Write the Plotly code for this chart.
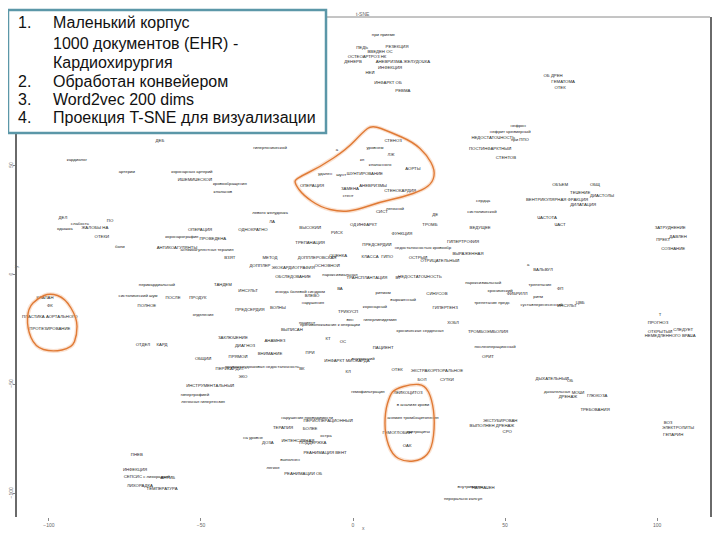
import plotly.graph_objects as go

# ---- data: t-SNE projection of word2vec terms ----
WORDS = [
    "при приеме", "РЕЗЕКЦИЯ", "ПЕДЬ", "ВВЕДЕН ОС", "ОСТЕОАРТРОЗ НК", "АНЕВРИЗМА ЖЕЛУДОЧКА",
    "ДЕНЕРВ", "ИНФЕКЦИЯ", "НЕЙ", "ИНФАРКТ ОБ", "РЕВМА",
    "ОБ ДРЕН", "ГЕМАТОМА", "ОТЕК",
    "нефрон", "нефрит чрезмерный", "НЕДОСТАТОЧНОСТЬ", "при ППО", "ПОСТИНФАРКТНЫЙ", "СТЕНТОВ",
    "ДЕБ", "кардиолог", "артерии", "коронарных артерий", "ИШЕМИЧЕСКОЙ", "кровообращения",
    "клапанов", "гипертонической", "а",
    "уровнем", "СТЕНОЗ", "ЛЖ", "кл", "клапанного", "АОРТЫ", "удален", "шунт", "ШУНТИРОВАНИЕ",
    "ОПЕРАЦИЯ", "ЗАМЕНА", "АНЕВРИЗМЫ", "СТЕНОКАРДИЯ", "стент", "легочной", "СИСТ", "ДЕ",
    "ОБЪЕМ", "ОБЩ", "ТЕЧЕНИЕ", "ДИАСТОЛЫ", "ВЕНТРИКУЛЯРНАЯ ФРАКЦИЯ", "ДИЛАТАЦИЯ", "сердца",
    "систолической", "ТРОМБ", "ВЕДУЩЕЕ", "ЧАСТОТА", "ЧАСТ", "ИНФАРКТ", "ФУНКЦИЯ", "ПРЕДСЕРДИЙ",
    "недостаточностью кровообр", "ГИПЕРТРОФИЯ", "ВЫРАЖЕННАЯ", "ОСТРЫЙ", "ОТРИЦАТЕЛЬНЫЙ",
    "КЛАССА", "ГИПО", "ЗАТРУДНЕНИЕ", "ПРЕКТ", "ДАВЛЕН", "СОЗНАНИЕ", "а",
    "ДЕЛ", "слабость", "ПО", "одышка", "ЖАЛОБЫ НА", "ОТЕКИ", "боли", "ОПЕРАЦИЯ",
    "коронарография", "ПРОВЕДЕНА", "ОДНОКРАТНО", "левого желудочка", "ЛА", "ВЫСОКИЙ", "РИСК",
    "ОД", "ТРЕПАНАЦИЯ", "АНТИКОАГУЛЯНТЫ", "антикоагулянтная терапия", "ВЗЯТ", "МЕТОД",
    "ДОППЛЕР", "ДОППЛЕРОВСКАЯ", "ОЦЕНКА", "ЭХОКАРДИОГРАФИЯ", "ОСНОВНОЙ",
    "пароксизмальная", "ОБСЛЕДОВАНИЕ", "перикардиальный", "ТАНДЕМ", "систолический шум",
    "ПОСЛЕ", "ПРОДУК", "ИНСУЛЬТ", "иногда болевой синдром", "ВЛЕВО", "ВА", "ПОЛНОЕ",
    "ПРЕДСЕРДИЯ", "ВОЛНЫ", "нарушения", "ТРИКУСП", "отделение", "вен", "пациент",
    "противопоказания к операции", "ВЫПИСАН", "ОТДЕЛ", "КАРД", "ЗАКЛЮЧЕНИЕ", "ДИАГНОЗ",
    "АНАМНЕЗ", "КТ", "ОС", "ОБЩИЙ", "ПРЯМОЙ", "ВНИМАНИЕ", "ПРИ", "ПЕРИКАРДИТ",
    "правожелудочковая недостаточность", "ВК", "ИНФАРКТ МИОКАРДА", "КЛ", "ЭХО",
    "ИНСТРУМЕНТАЛЬНЫЙ", "гипертрофией",
    "КЛАПАН", "ФК", "ПЛАСТИКА АОРТАЛЬНОГО", "ПРОТЕЗИРОВАНИЕ",
    "легочная гипертензия", "нарушение проводимости", "ПЕРИОПЕРАЦИОННЫЙ", "ТЕРАПИЯ", "БОЛЕЕ",
    "остра", "на уровне", "ДОЗА", "ИНТЕНСИВНАЯ", "ПОДДЕРЖКА", "РЕАНИМАЦИЯ ВЕНТ", "выполнен",
    "легкое", "РЕАНИМАЦИИ ОБ", "ПНЕВ", "ИНФЕКЦИЯ", "СЕПСИС с лихорадкой", "АНТИБ",
    "ЛИХОРАДКА", "ТЕМПЕРАТУРА",
    "ТРАНСПЛАНТАЦИЯ", "ВТ", "НЕДОСТАТОЧНОСТЬ", "ВАЛЬВУЛ", "пароксизмальный", "трепетание",
    "ФП", "хронический", "ФИБРИЛЛ", "ритм", "СИНУСОВ", "ритмом", "выраженный", "коронарный",
    "ГИПЕРТЕНЗ", "трепетание предс", "сустав", "перенесенный", "ИНСУЛЬТ", "ЦВБ",
    "гиперлипидемия", "хроническая сердечная", "ХОБЛ", "ТРОМБОЭМБОЛИЯ", "послеоперационный",
    "ОРИТ", "ПАЦИЕНТ", "внутренний", "ОТЕК", "ЭКСТРАКОРПОРАЛЬНОЕ", "БОЛ", "СУТКИ",
    "Т", "ПРОГНОЗ", "ОТКРЫТЫЙ", "СЛЕДУЕТ", "НЕМЕДЛЕННОГО ВРАЧА",
    "ДЫХАТЕЛЬНЫЙ", "ОБ", "дыхательная", "МОЧИ", "ДРЕНАЖ", "ГЛЮКОЗА", "гемофильтрация",
    "ЛЕЙКОЦИТОЗ", "в анализе крови", "анемия тромбоцитопения", "ГЕМОГЛОБИН", "эритроциты",
    "ОАК", "ЭКСТУБИРОВАН", "ВЫПОЛНЕН ДРЕНАЖ", "СРО", "ТРЕБОВАНИЯ", "ВОЗ", "ЭЛЕКТРОЛИТЫ",
    "ГЕПАРИН", "внутривенно", "НАЗНАЧЕН", "перорально капсул",
]

TSNE_X = [
    10, 14.5, 3, 8.9, 4.6, 16.4, 0, 12.2, 5.6, 11.5, 16.4,
    65.8, 69.1, 68.1,
    54.3, 51.7, 46.1, 54.9, 45.1, 50.3,
    -63.5, -90.8, -74.4, -53, -52, -40.5, -42.8, -27.3, -5.3,
    7.2, 13.2, 12.5, 3, 8.9, 19.7, -9.2, -3.9, 3.9,
    -13.5, -1, 6.6, 15.5, -1.6, 13.8, 9.5, 27,
    68.1, 79.6, 74.7, 81.9, 67.1, 75.7, 42.8,
    42.4, 25.3, 41.8, 63.8, 68.1, 4.6, 16.1, 7.9,
    23, 36.2, 37.8, 21.4, 28.6,
    5.6, 11.2, 104.3, 102, 106.9, 105.3, 57.6,
    -95.4, -89.8, -79.9, -94.8, -84.9, -82.6, -76.7, -50.3,
    -56.3, -46.1, -32.9, -27.3, -26.6, -14.1, -5.3,
    0, -14.1, -57.9, -48, -40.5, -27.3,
    -30.6, -11.8, -4.9, -19.7, -8.5,
    -4.3, -19.7, -64.5, -42.8, -70.7,
    -59.2, -51, -34.5, -17.4, -13.5, -4.3, -67.8,
    -33.9, -24.7, -13.2, -1.6, -49.3, -1, -15.1,
    -7.6, -20.1, -69.1, -62.8, -39.5, -35.5,
    -25.7, -8.2, -3.3, -49.3, -37.8, -27.3, -14.1, -40.5,
    -29.9, -16.8, -2, -1.6, -36.2,
    -47, -52,
    -101.3, -99.7, -99.7, -99.7,
    -49.3, -15.1, -8.2, -23, -14.1,
    -8.9, -32.9, -28, -18.1, -13.2, -9.2, -20.7,
    -26.3, -16.4, -71.1, -71.7, -67.8, -60.9,
    -70.1, -62.8,
    4.6, 14.8, 22, 62.5, 42.8, 61.5,
    68.1, 48.4, 54, 60.9, 27.6, 9.9, 16.5, 7.2,
    30.3, 45.7, 57.2, 64.2, 70.4, 74.7,
    8.9, 22, 32.9, 44.4, 46.7,
    44.4, 9.9, 3.3, 14.5, 27.6, 22.7, 30.9,
    101, 100.3, 101, 108.6, 104.3,
    65.5, 71.4, 67.1, 74, 70.7, 80.3, 4.9,
    18.1, 19.7, 19.7, 14.5, 21.4,
    17.8, 48.4, 45.7, 50.7, 79.6, 103.6, 106.9,
    105.3, 38.5, 42.8, 36.2,
]

TSNE_Y = [
    110, 104.2, 104, 101.9, 99.6, 97.3, 97.3, 94.6, 92.3, 87.7, 84.1,
    90.9, 88.2, 85.5,
    68.1, 65.4, 62.6, 61.7, 57.6, 53.5,
    61.2, 52.6, 47.1, 47.1, 43.4, 41.6, 37.9, 58, 57.1,
    58, 61.2, 54.8, 52.6, 50.3, 48.4, 46.2, 45.7, 46.2,
    40.7, 39.3, 40.7, 38.4, 36.1, 30.2, 28.8, 27.4,
    41.1, 41.1, 37.5, 36.1, 34.3, 32, 33.8,
    28.8, 22.9, 21.5, 26, 22.9, 22.9, 18.7, 13.7,
    12.3, 15.1, 9.6, 7.8, 6.4,
    8.2, 8.2, 21.5, 16, 17.4, 11.9, 4.6,
    26, 23.3, 24.7, 21, 21.5, 17.4, 12.8, 20.6,
    17.4, 16.5, 20.6, 28.3, 24.2, 21.5, 19.2,
    22.9, 14.6, 12.3, 11.4, 7.8, 7.8,
    4.1, 7.8, 8.7, 3.2, 4.1,
    0, -0.9, -4.6, -4.6, -9.6,
    -10.5, -10.5, -7.3, -7.8, -9.6, -6.4, -14.2,
    -16, -15.1, -12.8, -16.9, -18.3, -20.6, -21.9,
    -22.9, -25.1, -32, -32, -28.8, -32.4,
    -30.2, -29.2, -30.6, -38.4, -37.5, -36.1, -35.6, -43,
    -42, -43, -39.3, -44.3, -46.6,
    -50.7, -54.8,
    -10.5, -14.2, -19.2, -24.7,
    -58, -65.4, -66.7, -69.9, -70.4,
    -73.6, -74.5, -76.8, -75.9, -76.8, -81.3, -84.5,
    -88.2, -90.9, -82.3, -89.1, -92.3, -92.8,
    -96.4, -97.8,
    -1.4, -1.4, -0.9, 2.3, -3.7, -4.6,
    -6.4, -7.3, -8.7, -10.1, -8.7, -8.2, -11.4, -14.6,
    -15.1, -12.8, -13.7, -13.7, -14.2, -12.8,
    -20.6, -25.6, -21.9, -26, -32.9,
    -37.5, -33.4, -38.4, -43.4, -43.9, -48, -48,
    -18.3, -21.9, -26, -25.1, -27.9,
    -47.5, -48.4, -53.5, -53.9, -55.8, -55.3, -53.5,
    -53.9, -59.4, -65.4, -72.2, -71.7,
    -78.1, -66.7, -69, -71.7, -61.7, -67.6, -69.9,
    -73.1, -96.9, -97.3, -102.4,
]

X_TICKS = [-100, -50, 0, 50, 100]
Y_TICKS = [-100, -50, 0, 50]

NOTES_NUM = ["1.", "", "", "2.", "3.", "4."]
NOTES_TXT = [
    "Маленький корпус",
    "1000 документов (EHR) -",
    "Кардиохирургия",
    "Обработан конвейером",
    "Word2vec 200 dims",
    "Проекция T-SNE для визуализации",
]

# ---- layout helpers (page pixel -> paper for decorations) ----
OFF = 8  # default page margin of the html body
W, H = 712, 532
ML, MT = 17 - OFF, 17 - OFF
MR = W - (710 - OFF)
MB = H - (517 - OFF)
PW, PH = W - ML - MR, H - MT - MB


def px(x):
    return (x - OFF - ML) / PW


def py(y):
    return (H - MB - (y - OFF)) / PH


def smooth_path(pts):
    P = [(px(a), py(b)) for a, b in pts]
    n = len(P)
    mids = [((P[i][0] + P[(i + 1) % n][0]) / 2, (P[i][1] + P[(i + 1) % n][1]) / 2) for i in range(n)]
    s = f"M {mids[-1][0]:.4f},{mids[-1][1]:.4f} "
    for i in range(n):
        s += f"Q {P[i][0]:.4f},{P[i][1]:.4f} {mids[i][0]:.4f},{mids[i][1]:.4f} "
    return s + "Z"


LOOP1 = [(295, 179), (320, 167), (347, 149), (363, 132), (372, 125), (390, 132), (413, 142),
         (427, 155), (435, 170), (433, 182), (423, 190), (403, 197), (380, 202), (357, 210),
         (340, 212), (320, 207), (303, 195), (295, 184)]
LOOP2 = [(50, 293), (65, 298), (77, 318), (77, 335), (72, 348), (52, 352), (35, 347),
         (27, 328), (28, 308), (38, 298)]
LOOP3 = [(395, 389), (412, 384), (425, 385), (432, 399), (435, 422), (432, 449), (422, 460),
         (405, 462), (392, 455), (385, 435), (385, 412), (390, 395)]

fig = go.Figure(go.Scatter(
    x=TSNE_X, y=TSNE_Y, text=WORDS, mode="text",
    textposition="middle center",
    textfont=dict(size=4.3, color="#222222", family="Liberation Sans"),
    hoverinfo="skip", showlegend=False,
))

shapes = [
    dict(type="line", xref="paper", yref="paper", x0=0, x1=1, y0=1, y1=1,
         line=dict(color="#8a8a8a", width=1)),
]
for loop in (LOOP1, LOOP2, LOOP3):
    shapes.append(dict(type="path", xref="paper", yref="paper", path=smooth_path(loop),
                       line=dict(color="rgba(240,170,120,0.35)", width=4), layer="above"))
    shapes.append(dict(type="path", xref="paper", yref="paper", path=smooth_path(loop),
                       line=dict(color="#e07a35", width=1.4), layer="above"))
# text box
shapes.append(dict(type="rect", xref="paper", yref="paper",
                   x0=px(8), x1=px(326), y0=py(133), y1=py(10),
                   fillcolor="white", line=dict(color="#5b97a8", width=2.5), layer="above"))

annotations = []
line_y = [22, 43, 63, 81, 99, 118]
for num, txt, yy in zip(NOTES_NUM, NOTES_TXT, line_y):
    if num:
        annotations.append(dict(xref="paper", yref="paper", x=px(16), y=py(yy), text=num,
                                xanchor="left", yanchor="middle", showarrow=False,
                                font=dict(family="Liberation Sans", size=16, color="#111")))
    annotations.append(dict(xref="paper", yref="paper", x=px(51), y=py(yy), text=txt,
                            xanchor="left", yanchor="middle", showarrow=False,
                            font=dict(family="Liberation Sans", size=16, color="#111")))
small = dict(family="Liberation Sans", size=5, color="#666")
annotations.append(dict(xref="paper", yref="paper", x=px(363), y=py(9), text="t-SNE",
                        showarrow=False, font=small))
annotations.append(dict(xref="paper", yref="paper", x=px(363), y=py(533), text="x",
                        showarrow=False, font=small))
annotations.append(dict(xref="paper", yref="paper", x=px(11), y=py(267), text="y",
                        showarrow=False, font=small, textangle=-90))

fig.update_layout(
    width=W, height=H,
    margin=dict(l=ML, r=MR, t=MT, b=MB),
    paper_bgcolor="white", plot_bgcolor="white",
    shapes=shapes, annotations=annotations,
    xaxis=dict(range=[-110.5, 117.4], tickvals=X_TICKS, showgrid=False, zeroline=False,
               showline=False, ticks="outside", ticklen=3, tickcolor="#888",
               tickfont=small, automargin=False),
    yaxis=dict(range=[-110.7, 118], tickvals=Y_TICKS, showgrid=False, zeroline=False,
               showline=True, linecolor="#6a6a6a", linewidth=1.5, mirror=True,
               ticks="outside", ticklen=2, tickcolor="#888", tickangle=-90,
               ticklabelstandoff=-2,
               tickfont=small, automargin=False),
)

fig.write_html("out.html")
